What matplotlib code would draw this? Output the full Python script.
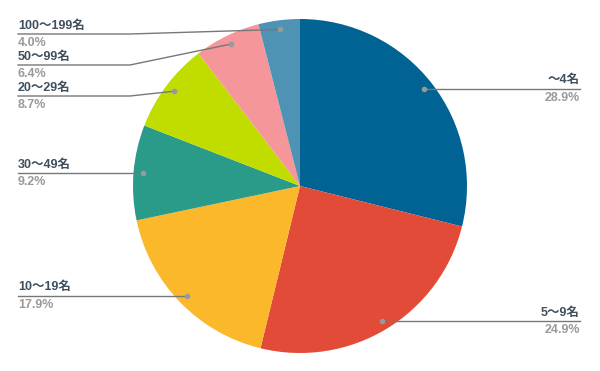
import numpy as np
import matplotlib.pyplot as plt

labels = ['～4名', '5～9名', '10～19名', '30～49名', '20～29名', '50～99名', '100～199名']
shares = [28.9, 24.9, 17.9, 9.2, 8.7, 6.4, 4.0]
colors = ['#006394', '#e24b38', '#fbb82b', '#2a9a89', '#c1dd00', '#f4969a', '#4e92b4']

# label line heights (pixels from top) for the crowded left side
left_line_y = {'100～199名': 34, '50～99名': 65, '20～29名': 96}

plt.rcParams['font.family'] = ['Liberation Sans', 'Noto Sans CJK JP', 'DejaVu Sans']

W, H = 600, 371
fig = plt.figure(figsize=(6, 3.71), dpi=100)
ax = fig.add_axes([0, 0, 1, 1])
ax.axis('off')

cx, cy, R = 300, H - 186, 167
ax.pie(shares, colors=colors, startangle=90, counterclock=False,
       center=(cx, cy), radius=R, wedgeprops=dict(linewidth=0))
ax.set_xlim(0, W)
ax.set_ylim(0, H)
ax.set_aspect('equal')

label_col = '#3e4f5e'
pct_col = '#9a9a9a'
line_col = '#777777'
fs = 9

cum = 0
for lab, s in zip(labels, shares):
    mid = cum + s / 2
    cum += s
    ang = np.deg2rad(90 - mid * 3.6)
    dx = cx + 0.945 * R * np.cos(ang)
    dy = cy + 0.945 * R * np.sin(ang)
    if np.cos(ang) > 0:
        xe = 580
        ax.plot([dx, xe], [dy, dy], color=line_col, lw=1, zorder=3)
        ax.text(xe, dy + 2.5, lab, ha='right', va='bottom', fontsize=fs,
                fontweight='bold', color=label_col)
        ax.text(xe, dy - 3, f'{s:.1f}%', ha='right', va='top', fontsize=fs,
                fontweight='bold', color=pct_col)
    else:
        xe = 18
        ly = H - left_line_y[lab] if lab in left_line_y else dy
        if lab in left_line_y:
            ax.plot([xe, 130, dx], [ly, ly, dy], color=line_col, lw=1, zorder=3)
        else:
            ax.plot([xe, dx], [ly, ly], color=line_col, lw=1, zorder=3)
        ax.text(xe, ly + 2.5, lab, ha='left', va='bottom', fontsize=fs,
                fontweight='bold', color=label_col)
        ax.text(xe, ly - 3, f'{s:.1f}%', ha='left', va='top', fontsize=fs,
                fontweight='bold', color=pct_col)
    ax.plot(dx, dy, 'o', color='#999999', ms=3, zorder=4)

plt.savefig('out.png', dpi=100)
